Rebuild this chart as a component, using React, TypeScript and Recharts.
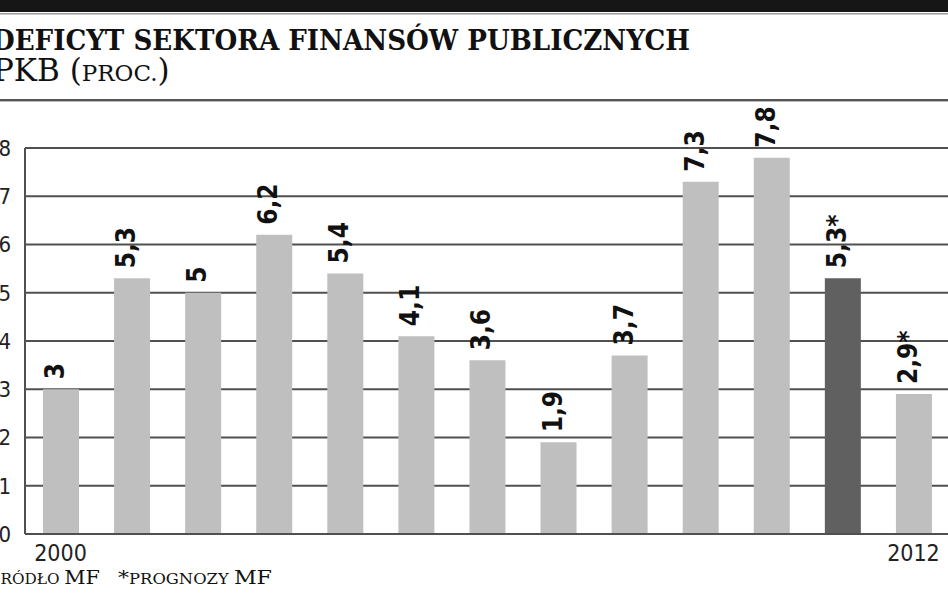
import { BarChart, Bar, XAxis, YAxis, CartesianGrid, Cell, LabelList } from 'recharts'

const years = [2000, 2001, 2002, 2003, 2004, 2005, 2006, 2007, 2008, 2009, 2010, 2011, 2012]
const deficit = [3, 5.3, 5, 6.2, 5.4, 4.1, 3.6, 1.9, 3.7, 7.3, 7.8, 5.3, 2.9]
// prognozy MF oznaczone gwiazdką
const forecast = [false, false, false, false, false, false, false, false, false, false, false, true, true]
const highlighted = 2011
const yTicks = [0, 1, 2, 3, 4, 5, 6, 7, 8]
const shownYears = [2000, 2012]

const data = years.map((year, i) => ({
    year,
    value: deficit[i],
    label: String(deficit[i]).replace('.', ',') + (forecast[i] ? '*' : ''),
}))

const condensed = "'DejaVu Sans Condensed', 'DejaVu Sans', sans-serif"
const slab = "'DejaVu Serif', serif"

function ValueLabel(props: any) {
    const { x, y, width, value } = props
    const px = x + width / 2 + 3
    const py = y - 10
    return (
        <text
            x={px}
            y={py}
            transform={`rotate(-90 ${px} ${py})`}
            textAnchor="start"
            fontFamily={condensed}
            fontStretch="condensed"
            fontWeight="bold"
            fontSize={26}
            fill="#111"
        >
            {value}
        </text>
    )
}

export default function App() {
    return (
        <div style={{ position: 'relative', width: 948, height: 593, overflow: 'hidden', background: '#fff' }}>
            <style>{`body{margin:0;overflow:hidden}`}</style>
            <svg width={948} height={593} style={{ position: 'absolute', left: 0, top: 0 }}>
                <rect x={0} y={0} width={948} height={12} fill="#161616" />
                <rect x={0} y={13} width={948} height={1.5} fill="#9a9a9a" />
                <text x={-8} y={50} fontFamily={slab} fontWeight="bold" fontSize={27} fill="#111"
                    textLength={698} lengthAdjust="spacingAndGlyphs">
                    DEFICYT SEKTORA FINANSÓW PUBLICZNYCH
                </text>
                <text x={-7} y={81} fontFamily={slab} fill="#111">
                    <tspan fontSize={31}>PKB (</tspan>
                    <tspan fontSize={23}>PROC.</tspan>
                    <tspan fontSize={31}>)</tspan>
                </text>
                <rect x={0} y={99} width={948} height={2} fill="#555" />
                <rect x={0} y={101} width={948} height={1} fill="#bbb" />
                <text x={-14} y={584} fontFamily={slab} fill="#111" textLength={114} lengthAdjust="spacingAndGlyphs">
                    <tspan fontSize={19}>Ź</tspan>
                    <tspan fontSize={14}>RÓDŁO </tspan>
                    <tspan fontSize={19}>MF</tspan>
                </text>
                <text x={118} y={584} fontFamily={slab} fill="#111" textLength={154} lengthAdjust="spacingAndGlyphs">
                    <tspan fontSize={19}>*</tspan>
                    <tspan fontSize={14}>PROGNOZY </tspan>
                    <tspan fontSize={19}>MF</tspan>
                </text>
            </svg>
            <div style={{ position: 'absolute', left: 0, top: 0 }}>
                <BarChart width={950} height={593} data={data} margin={{ top: 148, right: 1, bottom: 29, left: 0 }}>
                    <CartesianGrid vertical={false} stroke="#505050" strokeWidth={1.8} />
                    <XAxis
                        dataKey="year"
                        interval={0}
                        height={30}
                        tickLine={false}
                        tickSize={0}
                        tickMargin={11}
                        axisLine={{ stroke: '#505050', strokeWidth: 1.8 }}
                        tickFormatter={(v: number) => (shownYears.includes(v) ? String(v) : '')}
                        tick={{ fontFamily: condensed, fontStretch: 'condensed', fontSize: 23, fill: '#222' }}
                    />
                    <YAxis
                        domain={[0, 8]}
                        ticks={yTicks}
                        width={25}
                        tickLine={false}
                        tickSize={0}
                        tickMargin={14}
                        axisLine={{ stroke: '#505050', strokeWidth: 2 }}
                        tick={{ fontFamily: condensed, fontStretch: 'condensed', fontSize: 22, fill: '#222' }}
                    />
                    <Bar dataKey="value" barSize={36} isAnimationActive={false}>
                        {data.map((d) => (
                            <Cell key={d.year} fill={d.year === highlighted ? '#606060' : '#bfbfbf'} />
                        ))}
                        <LabelList dataKey="label" content={ValueLabel} />
                    </Bar>
                </BarChart>
            </div>
        </div>
    )
}
